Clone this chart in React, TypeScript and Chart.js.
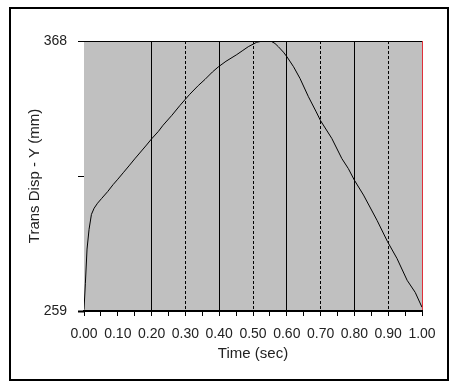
import React, { useEffect, useRef } from "react";
import { Chart, registerables } from "chart.js";

Chart.register(...registerables);

const timeSec: number[] = [
  0, 0.004, 0.009, 0.015, 0.022, 0.03, 0.04, 0.052, 0.07, 0.086, 0.1, 0.116, 0.135, 0.15,
  0.17, 0.185, 0.2, 0.22, 0.234, 0.26, 0.284, 0.3, 0.313, 0.338, 0.358, 0.38, 0.397, 0.42,
  0.452, 0.47, 0.486, 0.5, 0.511, 0.53, 0.555, 0.565, 0.575, 0.59, 0.6, 0.62, 0.639, 0.664,
  0.687, 0.7, 0.733, 0.763, 0.782, 0.8, 0.827, 0.867, 0.898, 0.926, 0.956, 0.98, 1.0,
];
const transDispY: number[] = [
  259.5, 270, 284, 292, 298, 300.5, 302.5, 304.4, 307.2, 310, 312.2, 314.8, 317.9, 320.4,
  323.6, 326, 328.5, 331.5, 334, 338, 342, 344.5, 346.5, 350, 352.5, 355.5, 357.5, 359.8,
  362.5, 364.2, 365.7, 366.7, 367.5, 368, 367.8, 367, 365.7, 363.5, 361.7, 357.6, 352.9, 345.5,
  339.4, 335.8, 328.7, 320.5, 316.5, 311.8, 305.8, 295.6, 287, 280.2, 271.4, 266.5, 260.5,
];

const yMin = 259;
const yMax = 368;
const yTickValues: number[] = [259, 313.5, 368];
const yLabelValues: number[] = [259, 368];
const xSolidGrid: number[] = [20, 40, 60, 80]; // hundredths
const xDashedGrid: number[] = [30, 50, 70, 90];
const xTitle = "Time (sec)";
const yTitle = "Trans Disp - Y (mm)";

const FONT = "'Liberation Sans', Arial, sans-serif";
const TEXT = "#222";

const plotBg = {
  id: "plotBg",
  beforeDraw(chart: any) {
    const { ctx, chartArea } = chart;
    if (!chartArea) return;
    ctx.save();
    ctx.fillStyle = "#c0c0c0";
    ctx.fillRect(chartArea.left, chartArea.top, chartArea.right - chartArea.left, chartArea.bottom - chartArea.top);
    ctx.restore();
  },
};

const hund = (c: any) => (c && c.tick ? Math.round(c.tick.value * 100) : -1);

export default function App() {
  const ref = useRef<HTMLCanvasElement>(null);
  useEffect(() => {
    if (!ref.current) return;
    const chart = new Chart(ref.current, {
      type: "scatter",
      data: {
        datasets: [
          {
            data: timeSec.map((t, i) => ({ x: t, y: transDispY[i] })),
            showLine: true,
            borderColor: "#000",
            borderWidth: 1,
            pointRadius: 0,
            tension: 0,
          },
        ],
      },
      plugins: [plotBg],
      options: {
        animation: false,
        responsive: false,
        layout: { padding: { top: 41, right: 28, left: 0, bottom: 0 } },
        plugins: { legend: { display: false }, tooltip: { enabled: false } },
        scales: {
          x: {
            type: "linear",
            min: 0,
            max: 1,
            afterFit: (s: any) => {
              s.height = 73;
            },
            ticks: {
              stepSize: 0.05,
              autoSkip: false,
              maxRotation: 0,
              minRotation: 0,
              padding: 10,
              color: TEXT,
              font: { family: FONT, size: 14 },
              callback: (v: any) => {
                const h = Math.round(Number(v) * 100);
                return h % 10 === 0 ? (h / 100).toFixed(2) : "";
              },
            },
            grid: {
              drawOnChartArea: true,
              tickLength: 5,
              tickColor: "#000",
              lineWidth: 1,
              color: (c: any) => {
                const h = hund(c);
                if (h === 100) return "#e0303a";
                if (xSolidGrid.includes(h) || xDashedGrid.includes(h)) return "#000";
                return "rgba(0,0,0,0)";
              },
            },
            border: {
              display: true,
              color: "#000",
              width: 2,
              dash: (c: any) => (xDashedGrid.includes(hund(c)) ? [3, 2] : []),
            },
            title: {
              display: true,
              text: xTitle,
              color: TEXT,
              font: { family: FONT, size: 15 },
              padding: { top: 0, bottom: 21 },
            },
          },
          y: {
            type: "linear",
            min: yMin,
            max: yMax,
            afterFit: (s: any) => {
              s.width = 84;
            },
            afterBuildTicks: (s: any) => {
              s.ticks = yTickValues.map((v) => ({ value: v }));
            },
            ticks: {
              autoSkip: false,
              padding: 11,
              color: TEXT,
              font: { family: FONT, size: 14 },
              callback: (v: any) => (yLabelValues.includes(Number(v)) ? String(v) : ""),
            },
            grid: {
              drawOnChartArea: true,
              tickLength: 6,
              tickColor: "#000",
              tickWidth: (c: any) => (c && c.tick && c.tick.value === yMin ? 2 : 1),
              color: (c: any) => (c && c.tick && c.tick.value === yMax ? "#000" : "rgba(0,0,0,0)"),
            },
            border: { display: false },
            title: {
              display: true,
              text: yTitle,
              color: TEXT,
              font: { family: FONT, size: 15 },
              padding: { top: 26, bottom: 0 },
            },
          },
        },
      } as any,
    });
    return () => chart.destroy();
  }, []);

  return (
    <div style={{ position: "fixed", left: 0, top: 0, width: 450, height: 384, background: "#fff" }}>
      <canvas ref={ref} width={450} height={384} style={{ position: "absolute", left: 0, top: 0, width: 450, height: 384 }} />
      <div
        style={{
          position: "absolute",
          left: 9,
          top: 7,
          width: 436,
          height: 370,
          border: "2px solid #000",
          pointerEvents: "none",
        }}
      />
    </div>
  );
}
